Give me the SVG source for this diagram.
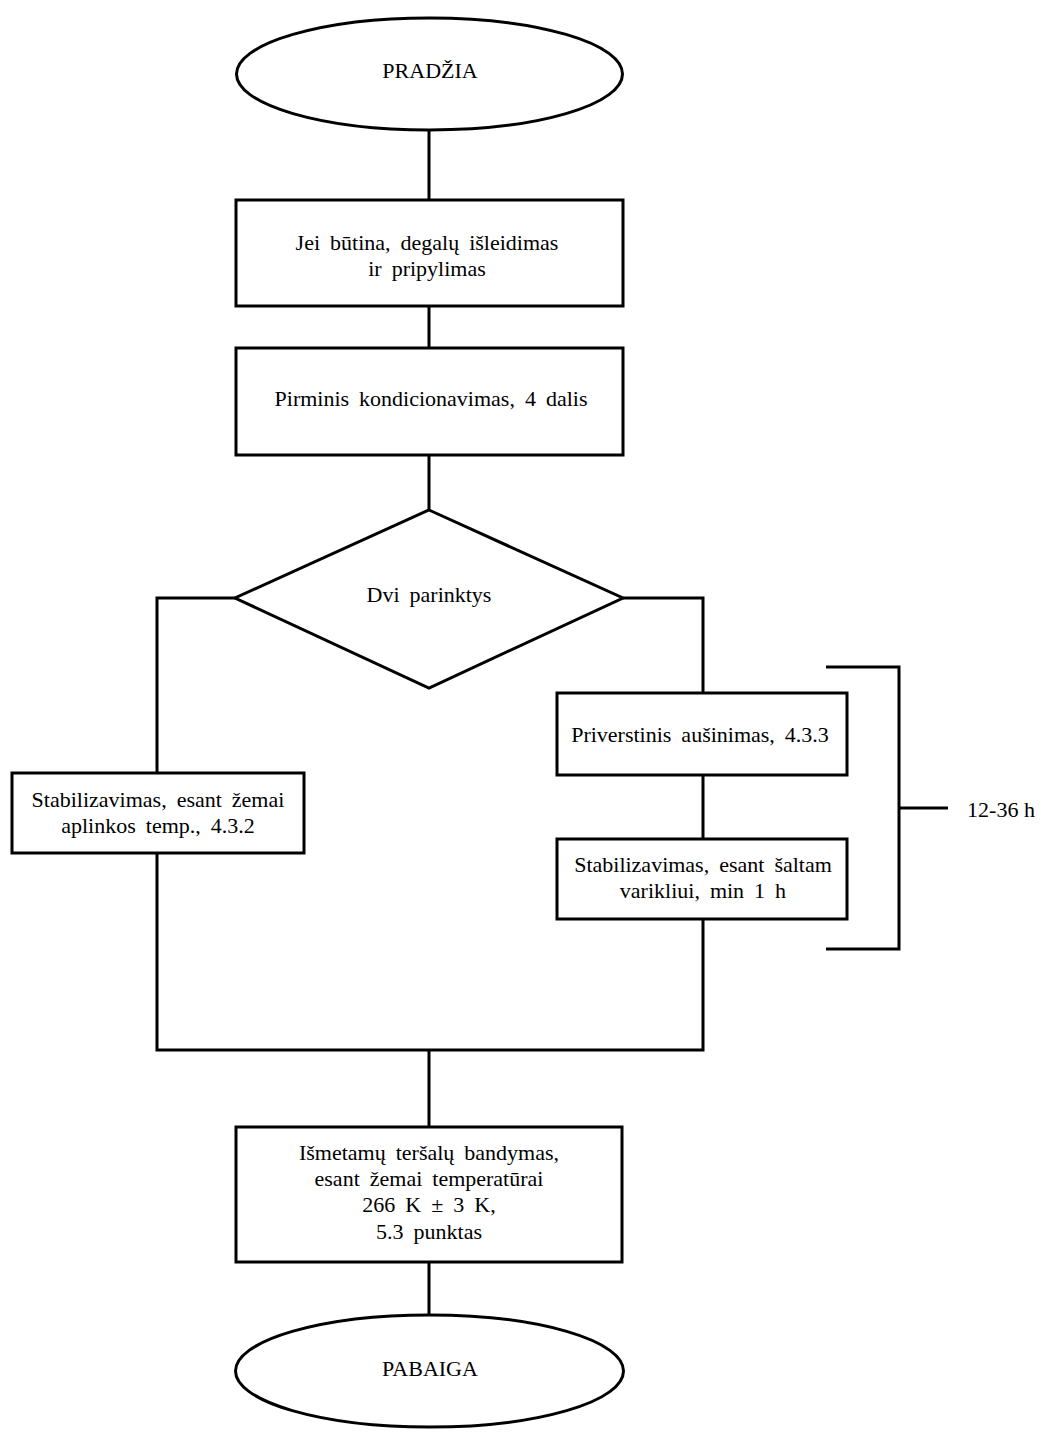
<svg xmlns="http://www.w3.org/2000/svg" width="1054" height="1432" viewBox="0 0 1054 1432">
<style>
.s{fill:#fff;stroke:#000;stroke-width:3}
.c{fill:none;stroke:#000;stroke-width:3}
text{font-family:"Liberation Serif","DejaVu Serif",serif;font-size:22px;fill:#000;text-anchor:middle;word-spacing:4.5px}
</style>
<rect width="1054" height="1432" fill="#fff"/>
<g id="connectors">
<path class="c" d="M429 130V200M429 306V348M429 455V510"/>
<path class="c" d="M235 598H157V773M157 853V1050H703V919M623 598H703V693M703 775V839"/>
<path class="c" d="M429 1050V1127M429 1262V1315"/>
<path class="c" d="M826 667H899V949H826M899 808H948"/>
</g>
<g id="start"><ellipse class="s" cx="429.5" cy="74" rx="193" ry="56"/><text x="430" y="78">PRADŽIA</text></g>
<g id="fuel"><rect class="s" x="236" y="200" width="387" height="106"/><text x="427" y="250">Jei būtina, degalų išleidimas</text><text x="427" y="276">ir pripylimas</text></g>
<g id="precond"><rect class="s" x="236" y="348" width="387" height="107"/><text x="431" y="406">Pirminis kondicionavimas, 4 dalis</text></g>
<g id="decision"><polygon class="s" points="429,510 623,598 429,688 235,598"/><text x="429" y="602">Dvi parinktys</text></g>
<g id="soak"><rect class="s" x="12" y="773" width="292" height="80"/><text x="158" y="807">Stabilizavimas, esant žemai</text><text x="158" y="833">aplinkos temp., 4.3.2</text></g>
<g id="forced"><rect class="s" x="557" y="693" width="290" height="82"/><text x="700" y="742">Priverstinis aušinimas, 4.3.3</text></g>
<g id="coldsoak"><rect class="s" x="557" y="839" width="290" height="80"/><text x="703" y="872">Stabilizavimas, esant šaltam</text><text x="703" y="898">varikliui, min 1 h</text></g>
<g id="duration"><text x="1001" y="817" style="word-spacing:0">12-36 h</text></g>
<g id="test"><rect class="s" x="236" y="1127" width="386" height="135"/><text x="429" y="1160">Išmetamų teršalų bandymas,</text><text x="429" y="1186">esant žemai temperatūrai</text><text x="429" y="1212">266 K ± 3 K,</text><text x="429" y="1239">5.3 punktas</text></g>
<g id="end"><ellipse class="s" cx="429.5" cy="1371" rx="194" ry="56"/><text x="430" y="1376">PABAIGA</text></g>
</svg>
